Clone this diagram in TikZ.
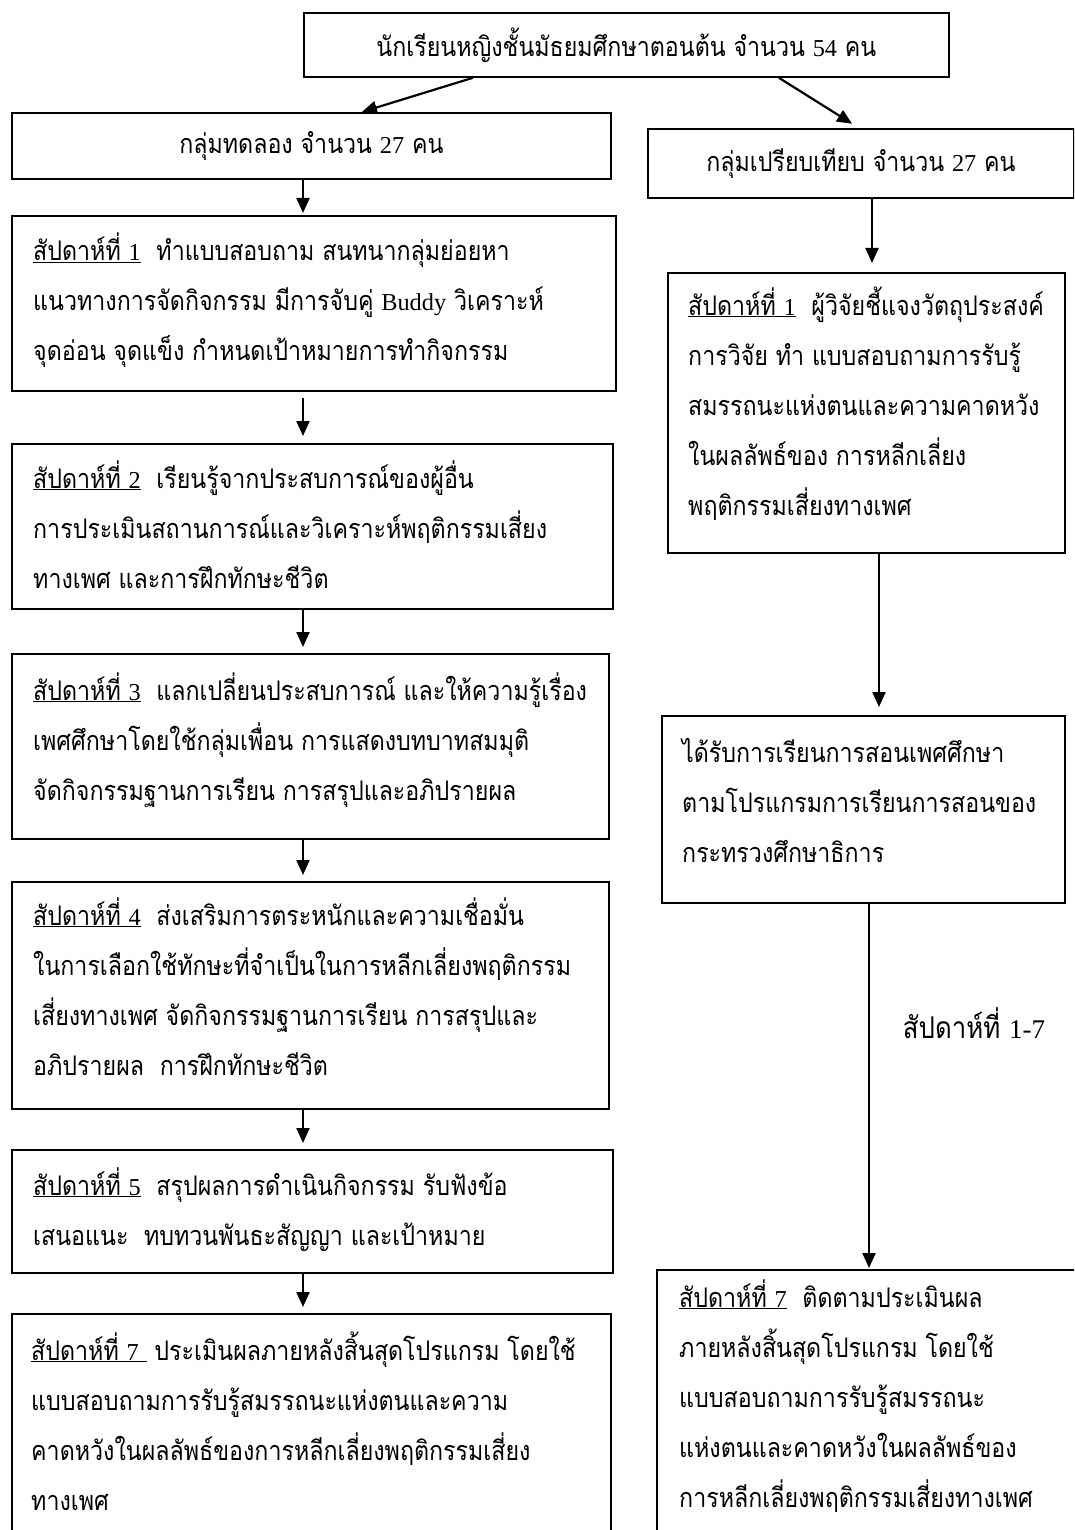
\documentclass[tikz,border=0pt]{standalone}
\usepackage{fontspec}
\usetikzlibrary{arrows.meta}
\newfontfamily\thaifont[Script=Thai,FakeStretch=0.86]{Loma}
\newfontfamily\lat[Scale=0.9]{Liberation Serif}
\newcommand{\tx}{\thaifont\fontsize{27}{50}\selectfont}
\newcommand{\wk}[1]{\underline{สัปดาห์ที่ {\lat #1}}}
\newcommand{\para}[1]{\parbox[t]{1000pt}{\tx\raggedright #1}}

\begin{document}
\begin{tikzpicture}[x=1pt,y=-1pt,
  box/.style={draw, line width=1.8pt, inner sep=0pt, anchor=north west},
  txt/.style={inner sep=0pt, anchor=base west, font=\tx},
  arr/.style={line width=2.2pt, -{Triangle[length=15pt,width=13pt]}},
  lbl/.style={inner sep=0pt, font={\thaifont\fontsize{30}{36}\selectfont}}]
\useasboundingbox (0,0) rectangle (1074,1530);
\fill[white] (0,0) rectangle (1074,1530);
\clip (0,0) rectangle (1074,1530);

% top and group boxes
\node[box, minimum width=645pt, minimum height=64pt, font=\tx] (T) at (303,12)
  {นักเรียนหญิงชั้นมัธยมศึกษาตอนต้น จำนวน {\lat 54} คน};
\node[box, minimum width=599pt, minimum height=66pt, font=\tx] (G1) at (11,112)
  {กลุ่มทดลอง จำนวน {\lat 27} คน};
\node[box, minimum width=426pt, minimum height=69pt, font=\tx] (G2) at (647,128)
  {กลุ่มเปรียบเทียบ จำนวน {\lat 27} คน};

% left column boxes
\node[box, minimum width=604pt, minimum height=175pt] (L1) at (11,215) {};
\node[box, minimum width=601pt, minimum height=165pt] (L2) at (11,443) {};
\node[box, minimum width=597pt, minimum height=185pt] (L3) at (11,653) {};
\node[box, minimum width=597pt, minimum height=227pt] (L4) at (11,881) {};
\node[box, minimum width=601pt, minimum height=123pt] (L5) at (11,1149) {};
\node[box, minimum width=599pt, minimum height=300pt] (L6) at (11,1313) {};

% right column boxes
\node[box, minimum width=397pt, minimum height=280pt] (R1) at (667,272) {};
\node[box, minimum width=403pt, minimum height=187pt] (R2) at (661,715) {};
\node[box, minimum width=450pt, minimum height=300pt] (R3) at (656,1269) {};

% texts
\node[txt] (L1t) at ([xshift=22pt,yshift=-46pt]L1.north west) {\para{%
\wk{1}\ \ ทำแบบสอบถาม สนทนากลุ่มย่อยหา\\
แนวทางการจัดกิจกรรม มีการจับคู่ {\lat Buddy} วิเคราะห์\\
จุดอ่อน จุดแข็ง กำหนดเป้าหมายการทำกิจกรรม}};
\node[txt] (L2t) at ([xshift=22pt,yshift=-45pt]L2.north west) {\para{%
\wk{2}\ \ เรียนรู้จากประสบการณ์ของผู้อื่น\\
การประเมินสถานการณ์และวิเคราะห์พฤติกรรมเสี่ยง\\
ทางเพศ และการฝึกทักษะชีวิต}};
\node[txt] (L3t) at ([xshift=22pt,yshift=-47pt]L3.north west) {\para{%
\wk{3}\ \ แลกเปลี่ยนประสบการณ์ และให้ความรู้เรื่อง\\
เพศศึกษาโดยใช้กลุ่มเพื่อน การแสดงบทบาทสมมุติ\\
จัดกิจกรรมฐานการเรียน การสรุปและอภิปรายผล}};
\node[txt] (L4t) at ([xshift=22pt,yshift=-44pt]L4.north west) {\para{%
\wk{4}\ \ ส่งเสริมการตระหนักและความเชื่อมั่น\\
ในการเลือกใช้ทักษะที่จำเป็นในการหลีกเลี่ยงพฤติกรรม\\
เสี่ยงทางเพศ จัดกิจกรรมฐานการเรียน การสรุปและ\\
อภิปรายผล\ \ การฝึกทักษะชีวิต}};
\node[txt] (L5t) at ([xshift=22pt,yshift=-46pt]L5.north west) {\para{%
\wk{5}\ \ สรุปผลการดำเนินกิจกรรม รับฟังข้อ\\
เสนอแนะ\ \ ทบทวนพันธะสัญญา และเป้าหมาย}};
\node[txt] (L6t) at ([xshift=20pt,yshift=-47pt]L6.north west) {\para{%
\underline{สัปดาห์ที่ {\lat 7}\ }\ ประเมินผลภายหลังสิ้นสุดโปรแกรม โดยใช้\\
แบบสอบถามการรับรู้สมรรถนะแห่งตนและความ\\
คาดหวังในผลลัพธ์ของการหลีกเลี่ยงพฤติกรรมเสี่ยง\\
ทางเพศ}};

\node[txt] (R1t) at ([xshift=21pt,yshift=-43pt]R1.north west) {\para{%
\wk{1}\ \ ผู้วิจัยชี้แจงวัตถุประสงค์\\
การวิจัย ทำ แบบสอบถามการรับรู้\\
สมรรถนะแห่งตนและความคาดหวัง\\
ในผลลัพธ์ของ การหลีกเลี่ยง\\
พฤติกรรมเสี่ยงทางเพศ}};
\node[txt] (R2t) at ([xshift=21pt,yshift=-47pt]R2.north west) {\para{%
ได้รับการเรียนการสอนเพศศึกษา\\
ตามโปรแกรมการเรียนการสอนของ\\
กระทรวงศึกษาธิการ}};
\node[txt] (R3t) at ([xshift=23pt,yshift=-38pt]R3.north west) {\para{%
\wk{7}\ \ ติดตามประเมินผล\\
ภายหลังสิ้นสุดโปรแกรม โดยใช้\\
แบบสอบถามการรับรู้สมรรถนะ\\
แห่งตนและคาดหวังในผลลัพธ์ของ\\
การหลีกเลี่ยงพฤติกรรมเสี่ยงทางเพศ}};

\node[lbl] (W17) at (974,1023) {สัปดาห์ที่ {\lat 1-7}};

% connector x positions
\coordinate (xl) at (303,0);
\coordinate (xr1) at (872,0);
\coordinate (xr2) at (879,0);
\coordinate (xr3) at (869,0);

% connectors
\draw[arr] ([xshift=-153.5pt]T.south) -- ([xshift=50.5pt]G1.north);
\draw[arr, shorten >=8pt] ([xshift=152.5pt]T.south) -- ([xshift=-2pt]G2.north);
\draw[arr, shorten >=2pt] (G1.south -| xl) -- (L1.north -| xl);
\draw[arr, shorten <=6pt, shorten >=7pt] (L1.south -| xl) -- (L2.north -| xl);
\draw[arr, shorten >=6pt] (L2.south -| xl) -- (L3.north -| xl);
\draw[arr, shorten >=6pt] (L3.south -| xl) -- (L4.north -| xl);
\draw[arr, shorten >=6pt] (L4.south -| xl) -- (L5.north -| xl);
\draw[arr, shorten >=6pt] (L5.south -| xl) -- (L6.north -| xl);
\draw[arr, shorten >=9pt] (G2.south -| xr1) -- (R1.north -| xr1);
\draw[arr, shorten >=8pt] (R1.south -| xr2) -- (R2.north -| xr2);
\draw[arr, shorten >=1pt] (R2.south -| xr3) -- (R3.north -| xr3);
\end{tikzpicture}
\end{document}
